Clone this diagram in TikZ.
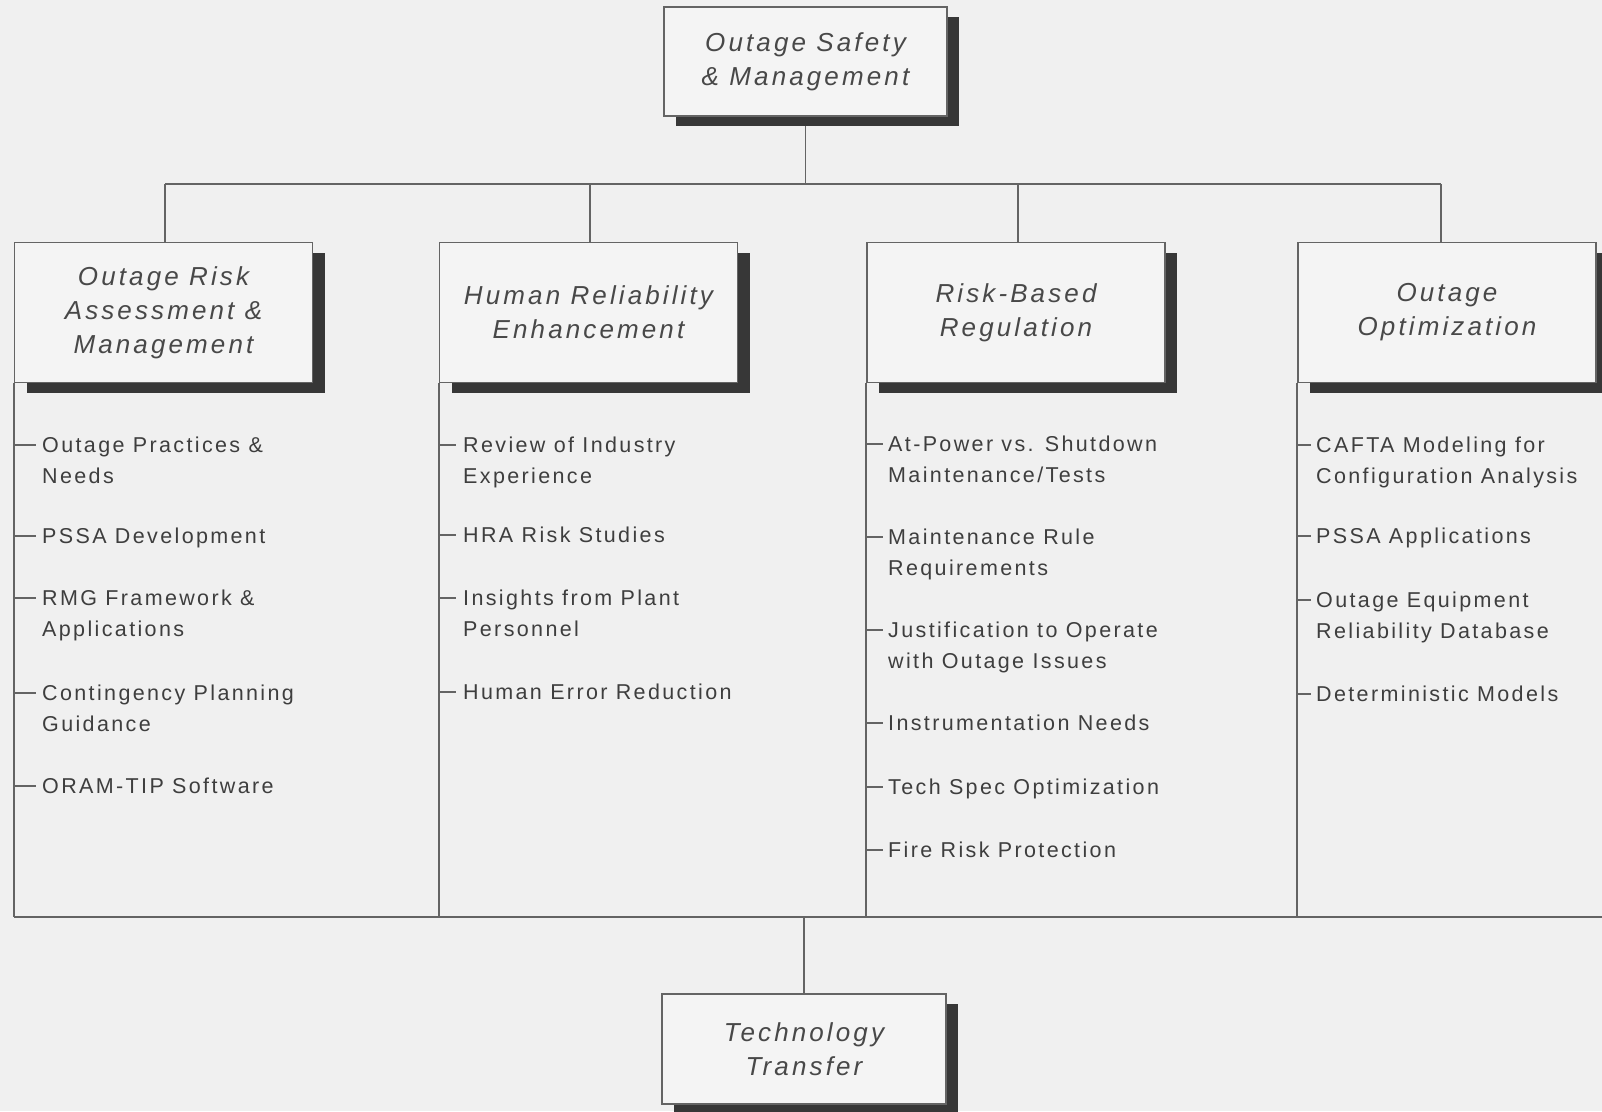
\documentclass[tikz,border=0pt]{standalone}
\usepackage{fontspec}
\setmainfont{Liberation Sans}
\newfontfamily\itemfont{Liberation Sans}[LetterSpace=11]
\newfontfamily\headfont{Liberation Sans Italic}[LetterSpace=12]
\usetikzlibrary{shadows,backgrounds}
\definecolor{bgc}{RGB}{240,240,240}
\definecolor{boxc}{RGB}{244,244,244}
\definecolor{linec}{RGB}{100,100,100}
\definecolor{itemc}{RGB}{62,62,62}
\definecolor{headc}{RGB}{72,72,72}
\definecolor{shadc}{RGB}{55,55,55}
\newcommand\twoln[2]{\begin{tabular}[t]{@{}l@{}}#1\\#2\end{tabular}}
\begin{document}
\begin{tikzpicture}[x=1pt,y=-1pt,
  conn/.style={draw=linec, line width=1.6pt},
  hbox/.style={draw=linec, line width=1.6pt, fill=boxc, text=headc, align=center, inner sep=0pt,
     font=\headfont\fontsize{26}{34}\selectfont,
     drop shadow={shadow xshift=12pt, shadow yshift=-10pt, fill=shadc, opacity=1}},
  colbox/.style={hbox, minimum width=298pt, minimum height=140pt},
  item/.style={anchor=base west, inner sep=0pt, text=itemc, font=\itemfont\fontsize{21.5}{31}\selectfont},
]
\useasboundingbox (0,0) rectangle (1602,1111);

% header boxes
\node[hbox, minimum width=283pt, minimum height=109pt] (top) at (805.5,61.5) {Outage Safety\\\& Management};
\node[colbox] (b1) at (163.5,312.5) {Outage Risk\\Assessment \&\\Management};
\node[colbox] (b2) at (588.5,312.5) {Human Reliability\\Enhancement};
\node[colbox] (b3) at (1016,312.5) {Risk-Based\\Regulation};
\node[colbox] (b4) at (1447,312.5) {Outage\\Optimization};
\node[hbox, minimum width=284pt, minimum height=110pt] (bot) at (804,1049) {Technology\\Transfer};

% column 1
\coordinate (t1a) at (14,445); \coordinate (t1b) at (14,536); \coordinate (t1c) at (14,598);
\coordinate (t1d) at (14,693); \coordinate (t1e) at (14,786);
\node[item] (i1a) at ([shift={(28,7.8)}]t1a) {\twoln{Outage Practices \&}{Needs}};
\node[item] (i1b) at ([shift={(28,7.8)}]t1b) {PSSA Development};
\node[item] (i1c) at ([shift={(28,7.8)}]t1c) {\twoln{RMG Framework \&}{Applications}};
\node[item] (i1d) at ([shift={(28,7.8)}]t1d) {\twoln{Contingency Planning}{Guidance}};
\node[item] (i1e) at ([shift={(28,7.8)}]t1e) {ORAM-TIP Software};

% column 2
\coordinate (t2a) at (439,445); \coordinate (t2b) at (439,535); \coordinate (t2c) at (439,598);
\coordinate (t2d) at (439,692);
\node[item] (i2a) at ([shift={(24,7.8)}]t2a) {\twoln{Review of Industry}{Experience}};
\node[item] (i2b) at ([shift={(24,7.8)}]t2b) {HRA Risk Studies};
\node[item] (i2c) at ([shift={(24,7.8)}]t2c) {\twoln{Insights from Plant}{Personnel}};
\node[item] (i2d) at ([shift={(24,7.8)}]t2d) {Human Error Reduction};

% column 3
\coordinate (t3a) at (866,444); \coordinate (t3b) at (866,537); \coordinate (t3c) at (866,630);
\coordinate (t3d) at (866,723); \coordinate (t3e) at (866,787); \coordinate (t3f) at (866,850);
\node[item] (i3a) at ([shift={(22,7.8)}]t3a) {\twoln{At-Power vs. Shutdown}{Maintenance/Tests}};
\node[item] (i3b) at ([shift={(22,7.8)}]t3b) {\twoln{Maintenance Rule}{Requirements}};
\node[item] (i3c) at ([shift={(22,7.8)}]t3c) {\twoln{Justification to Operate}{with Outage Issues}};
\node[item] (i3d) at ([shift={(22,7.8)}]t3d) {Instrumentation Needs};
\node[item] (i3e) at ([shift={(22,7.8)}]t3e) {Tech Spec Optimization};
\node[item] (i3f) at ([shift={(22,7.8)}]t3f) {Fire Risk Protection};

% column 4
\coordinate (t4a) at (1297,445); \coordinate (t4b) at (1297,536); \coordinate (t4c) at (1297,600);
\coordinate (t4d) at (1297,694);
\node[item] (i4a) at ([shift={(19,7.8)}]t4a) {\twoln{CAFTA Modeling for}{Configuration Analysis}};
\node[item] (i4b) at ([shift={(19,7.8)}]t4b) {PSSA Applications};
\node[item] (i4c) at ([shift={(19,7.8)}]t4c) {\twoln{Outage Equipment}{Reliability Database}};
\node[item] (i4d) at ([shift={(19,7.8)}]t4d) {Deterministic Models};

\begin{scope}[on background layer]
  \fill[bgc] (0,0) rectangle (1602,1111);
  \coordinate (bus) at (808,184);
  \coordinate (base) at (0,917);
  \coordinate (baseend) at (1602,917);
  \coordinate (d1) at (165,184); \coordinate (d2) at (590,184);
  \coordinate (d3) at (1018,184); \coordinate (d4) at (1441,184);
  \draw[conn] (top.south) -- (top.south |- bus);
  \draw[conn] (d1) -- (d4);
  \draw[conn] (d1) -- (d1 |- b1.north);
  \draw[conn] (d2) -- (d2 |- b2.north);
  \draw[conn] (d3) -- (d3 |- b3.north);
  \draw[conn] (d4) -- (d4 |- b4.north);
  \foreach \b in {b1,b2,b3,b4} \draw[conn] (\b.south west) -- (\b.south west |- base);
  \draw[conn] (b1.south west |- base) -- (baseend);
  \draw[conn] (bot.north |- base) -- (bot.north);
  \foreach \t in {t1a,t1b,t1c,t1d,t1e} \draw[conn] (\t) -- ++(22,0);
  \foreach \t in {t2a,t2b,t2c,t2d} \draw[conn] (\t) -- ++(17,0);
  \foreach \t in {t3a,t3b,t3c,t3d,t3e,t3f} \draw[conn] (\t) -- ++(17,0);
  \foreach \t in {t4a,t4b,t4c,t4d} \draw[conn] (\t) -- ++(14,0);
\end{scope}
\end{tikzpicture}
\end{document}
